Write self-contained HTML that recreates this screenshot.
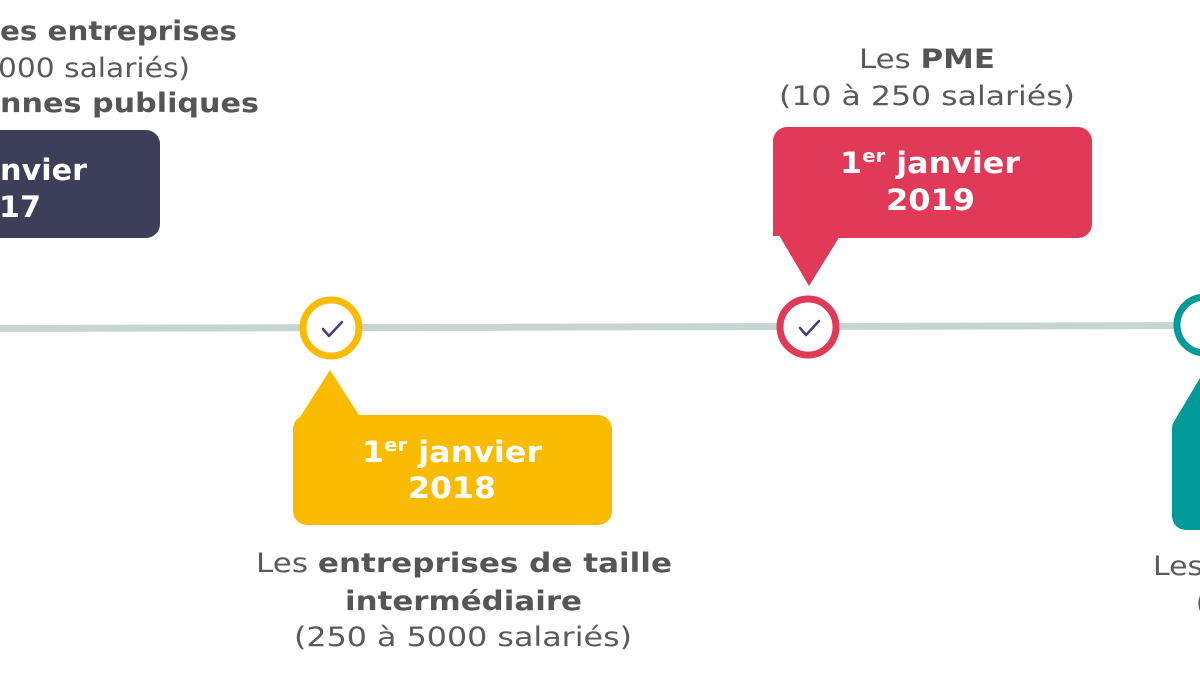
<!DOCTYPE html>
<html><head><meta charset="utf-8"><style>
html,body{margin:0;padding:0;background:#fff;}
svg{display:block;}
text{font-family:"DejaVu Sans","Liberation Sans",sans-serif;}
.cap{font-size:27px;fill:#5a5a5a;}
.b{font-weight:bold;fill:#555;}
.w{font-size:29px;font-weight:bold;fill:#fff;}
</style></head><body>
<svg width="1200" height="675" viewBox="0 0 1200 675" xmlns="http://www.w3.org/2000/svg">
<rect width="1200" height="675" fill="#fff"/>
<line x1="0" y1="328.5" x2="1200" y2="325.5" stroke="#c8d4d2" stroke-width="7"/>

<text class="cap" x="0" y="40" textLength="237" lengthAdjust="spacingAndGlyphs"><tspan class="b">es entreprises</tspan></text>
<text class="cap" x="-2" y="77" textLength="192" lengthAdjust="spacingAndGlyphs">000 salariés)</text>
<text class="cap" x="0" y="112" textLength="259" lengthAdjust="spacingAndGlyphs"><tspan class="b">nnes publiques</tspan></text>
<rect x="-20" y="130" width="180" height="108" rx="14" fill="#3c3f57"/>
<text class="w" x="0" y="180" textLength="87" lengthAdjust="spacingAndGlyphs">nvier</text>
<text class="w" x="-1" y="217" textLength="42" lengthAdjust="spacingAndGlyphs">17</text>

<circle cx="331" cy="328" r="28" fill="#fff" stroke="#fbbb00" stroke-width="7"/>
<polyline points="323,329 329,336 342,322" fill="none" stroke="#4b3b7c" stroke-width="2.5" stroke-linecap="round" stroke-linejoin="round"/>
<path d="M293,428 L330,370 L359,415 Z" fill="#fbbb00"/>
<rect x="293" y="415" width="319" height="110" rx="14" fill="#fbbb00"/>
<text class="w" x="362" y="462" textLength="180" lengthAdjust="spacingAndGlyphs">1<tspan font-size="18" dy="-11">er</tspan><tspan dy="11"> janvier</tspan></text>
<text class="w" x="408" y="498" textLength="88" lengthAdjust="spacingAndGlyphs">2018</text>
<text class="cap" x="256" y="572" textLength="416" lengthAdjust="spacingAndGlyphs">Les <tspan class="b">entreprises de taille</tspan></text>
<text class="cap" x="345" y="610" textLength="237" lengthAdjust="spacingAndGlyphs"><tspan class="b">intermédiaire</tspan></text>
<text class="cap" x="294" y="646" textLength="338" lengthAdjust="spacingAndGlyphs">(250 à 5000 salariés)</text>

<text class="cap" x="859" y="68" textLength="136" lengthAdjust="spacingAndGlyphs">Les <tspan class="b">PME</tspan></text>
<text class="cap" x="779" y="105" textLength="296" lengthAdjust="spacingAndGlyphs">(10 à 250 salariés)</text>
<rect x="773" y="127" width="319" height="111" rx="14" fill="#e03a58"/>
<path d="M773,225 L809,286 L840,236 L773,236 Z" fill="#e03a58"/>
<text class="w" x="840" y="173" textLength="180" lengthAdjust="spacingAndGlyphs">1<tspan font-size="18" dy="-11">er</tspan><tspan dy="11"> janvier</tspan></text>
<text class="w" x="886" y="210" textLength="89" lengthAdjust="spacingAndGlyphs">2019</text>
<circle cx="808" cy="327" r="28" fill="#fff" stroke="#e03a58" stroke-width="7"/>
<polyline points="800,328 806,335 819,321" fill="none" stroke="#4b3b7c" stroke-width="2.5" stroke-linecap="round" stroke-linejoin="round"/>

<circle cx="1205" cy="325" r="28" fill="#fff" stroke="#009a98" stroke-width="7"/>
<path d="M1172,425 L1200,378 L1230,378 L1230,420 Z" fill="#009a98"/>
<rect x="1172" y="415" width="80" height="115" rx="14" fill="#009a98"/>
<text class="cap" x="1153" y="575" textLength="50" lengthAdjust="spacingAndGlyphs">Les</text>
<text class="cap" x="1196" y="612">(</text>
</svg>
</body></html>
